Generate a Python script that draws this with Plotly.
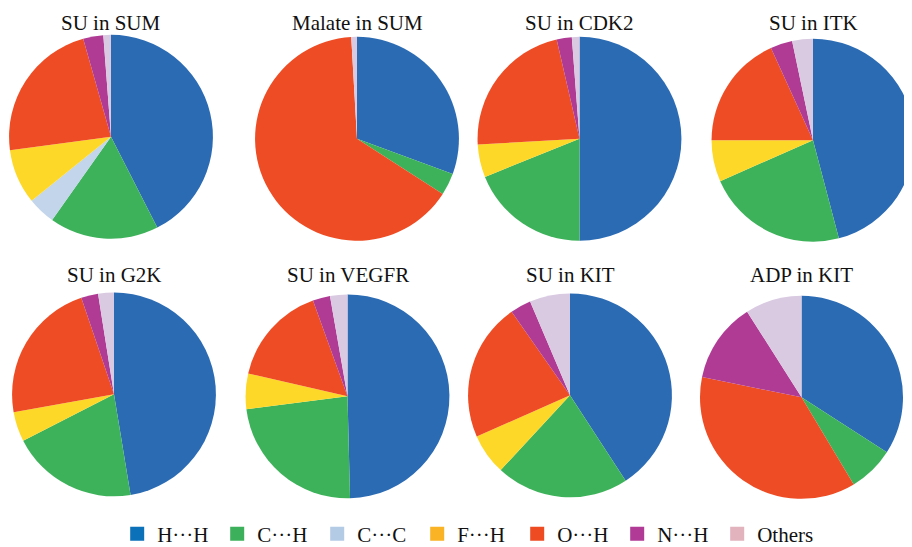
import plotly.graph_objects as go

# ---- data ----
categories = ["H···H", "C···H", "C···C", "F···H", "O···H", "N···H", "Others"]
titles = ["SU in SUM", "Malate in SUM", "SU in CDK2", "SU in ITK",
          "SU in G2K", "SU in VEGFR", "SU in KIT", "ADP in KIT"]
su_sum = [42.5, 17.3, 4.4, 8.7, 22.7, 3.2, 1.2]
malate_sum = [30.6, 3.5, 0, 0, 65.0, 0, 0.9]
su_cdk2 = [50.0, 18.9, 0, 5.2, 22.3, 2.4, 1.2]
su_itk = [45.9, 22.5, 0, 6.6, 18.2, 3.5, 3.3]
su_g2k = [47.4, 20.1, 0, 4.7, 22.6, 2.7, 2.5]
su_vegfr = [49.6, 23.4, 0, 5.6, 15.9, 2.75, 2.75]
su_kit = [40.8, 21.1, 0, 6.5, 21.9, 3.3, 6.4]
adp_kit = [34.1, 7.3, 0, 0, 36.8, 12.8, 9.0]
series = [su_sum, malate_sum, su_cdk2, su_itk, su_g2k, su_vegfr, su_kit, adp_kit]

# ---- styles ----
pie_colors = ["#2b6bb4", "#3eb25b", "#c3d5ea", "#fdd828", "#ee4c24", "#b03b95", "#d9c9e1"]
legend_colors = ["#0b71b9", "#3cb05a", "#b4cbe6", "#f9b325", "#ee4b23", "#b03a96", "#e2b3bc"]
W, H = 912, 547
# pixel boxes of each pie in figure coordinates: (left, right, top, bottom)
boxes = [(0, 206, 27, 232), (246, 452, 29, 234), (469, 674, 29, 234), (703, 907, 31, 235),
         (3, 209, 286, 491), (237, 442, 288, 493), (459, 665, 287, 492), (692, 895, 289, 494)]
title_y = [15.5, 15.5, 15.5, 15.5, 268.5, 268.5, 268.5, 268.5]
FONT = "Liberation Serif"

fig = go.Figure()
annotations = []
for t, vals, (l, r, tp, bt), ty in zip(titles, series, boxes, title_y):
    fig.add_trace(go.Pie(
        labels=categories, values=vals, sort=False, direction="clockwise", rotation=0,
        marker=dict(colors=pie_colors, line=dict(width=0)),
        textinfo="none", hoverinfo="label+percent", showlegend=False,
        domain=dict(x=[l / W, min(r / W, 1)], y=[1 - bt / H, 1 - tp / H]),
    ))
    annotations.append(dict(text=t, x=(l + r) / 2 / W, y=1 - ty / H, xref="paper", yref="paper",
                            xanchor="center", yanchor="middle", showarrow=False,
                            font=dict(family=FONT, size=21, color="#111111")))

for name, c in zip(categories, legend_colors):
    fig.add_trace(go.Scatter(x=[None], y=[None], mode="markers", name=name,
                             marker=dict(symbol="square", size=14, color=c), showlegend=True))

fig.update_layout(
    width=W, height=H, margin=dict(l=0, r=0, t=0, b=0),
    paper_bgcolor="white", plot_bgcolor="white",
    xaxis=dict(visible=False), yaxis=dict(visible=False),
    annotations=annotations,
    legend=dict(orientation="h", x=0.5035, xanchor="center", y=1 - 529 / H, yanchor="middle",
                font=dict(family=FONT, size=21, color="#111111"), bgcolor="rgba(0,0,0,0)",
                entrywidth=55, entrywidthmode="pixels", itemclick=False),
)
fig.write_html("out.html")
